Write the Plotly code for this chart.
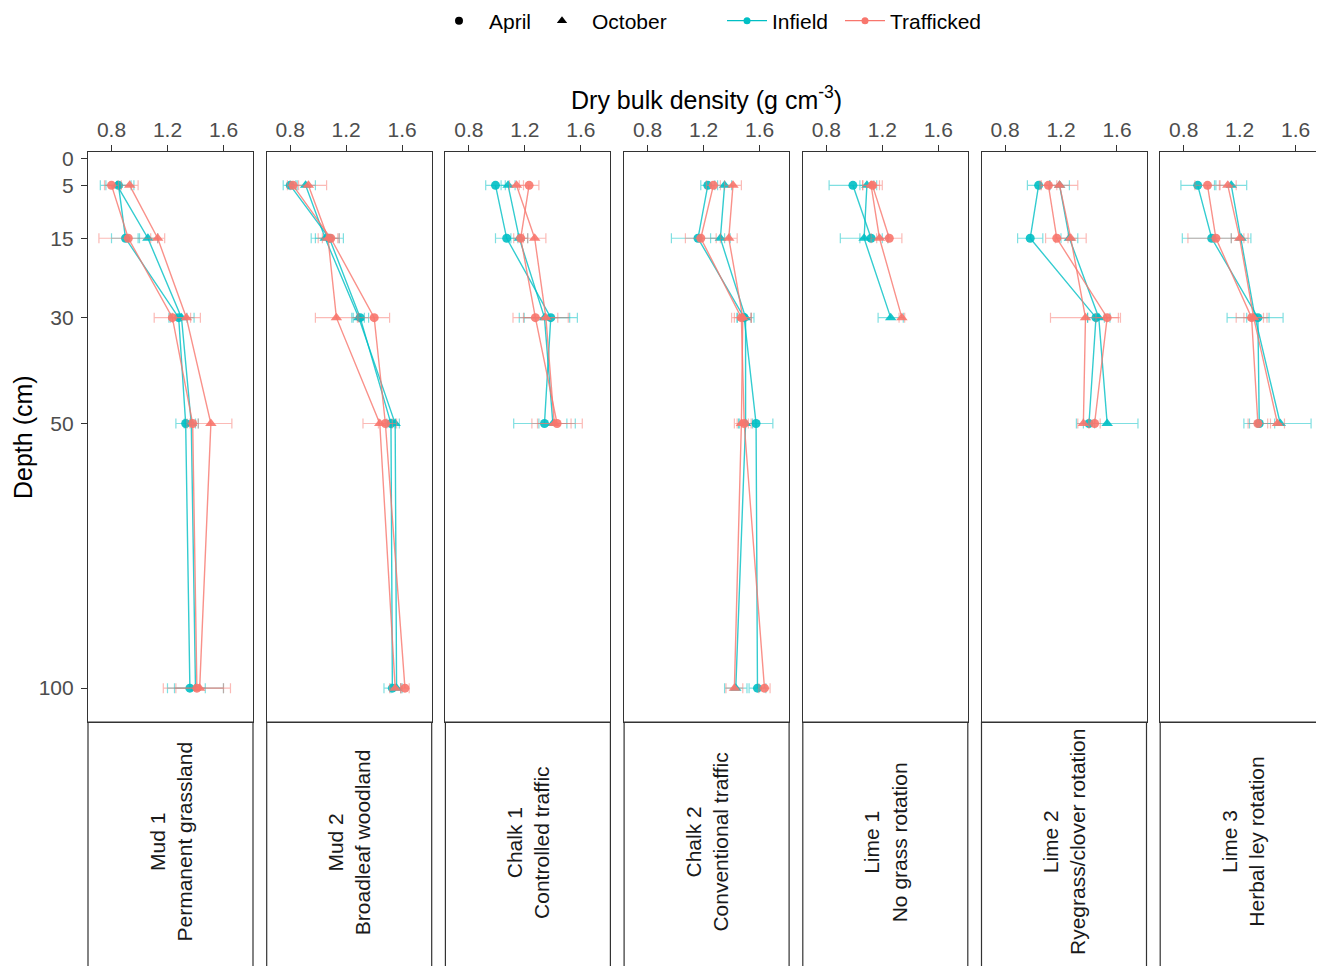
import plotly.graph_objects as go

# ---------------- data ----------------
depths = [5, 15, 30, 50, 100]
depth_ticks = [0, 5, 15, 30, 50, 100]
density_ticks = [0.8, 1.2, 1.6]
site_labels = [
    "Mud 1<br>Permanent grassland",
    "Mud 2<br>Broadleaf woodland",
    "Chalk 1<br>Controlled traffic",
    "Chalk 2<br>Conventional traffic",
    "Lime 1<br>No grass rotation",
    "Lime 2<br>Ryegrass/clover rotation",
    "Lime 3<br>Herbal ley rotation",
]

# mean dry bulk density (g cm-3) per site (rows) and depth (columns 5,15,30,50,100 cm)
infield_april = [
    [0.85, 0.90, 1.28, 1.33, 1.36],
    [0.80, 1.08, 1.30, 1.52, 1.53],
    [0.99, 1.07, 1.385, 1.34, None],
    [1.23, 1.16, 1.49, 1.575, 1.585],
    [0.99, 1.12, None, None, None],
    [1.04, 0.98, 1.45, 1.40, None],
    [0.90, 1.00, 1.33, 1.34, None],
]
infield_october = [
    [0.84, 1.06, 1.30, 1.37, 1.40],
    [0.91, 1.05, 1.29, 1.55, 1.56],
    [1.08, 1.16, 1.34, 1.40, None],
    [1.35, 1.32, 1.50, 1.50, 1.43],
    [1.09, 1.07, 1.26, None, None],
    [1.19, 1.26, 1.47, 1.53, None],
    [1.14, 1.21, 1.31, 1.49, None],
]
trafficked_april = [
    [0.80, 0.92, 1.235, 1.38, 1.41],
    [0.82, 1.09, 1.40, 1.48, 1.62],
    [1.23, 1.17, 1.275, 1.43, None],
    [1.27, 1.18, 1.47, 1.49, 1.635],
    [1.13, 1.25, None, None, None],
    [1.11, 1.17, 1.53, 1.44, None],
    [0.97, 1.03, 1.285, 1.33, None],
]
trafficked_october = [
    [0.93, 1.13, 1.335, 1.51, 1.43],
    [0.93, 1.07, 1.13, 1.44, 1.55],
    [1.14, 1.27, 1.35, 1.41, None],
    [1.41, 1.38, 1.48, 1.47, 1.42],
    [1.12, 1.18, 1.34, None, None],
    [1.19, 1.27, 1.375, 1.36, None],
    [1.115, 1.20, 1.30, 1.47, None],
]

# standard errors
infield_april_se = [
    [0.09, 0.10, 0.06, 0.07, 0.11],
    [0.05, 0.10, 0.06, 0.03, 0.06],
    [0.07, 0.08, 0.19, 0.22, None],
    [0.05, 0.19, 0.05, 0.12, 0.06],
    [0.17, 0.08, None, None, None],
    [0.08, 0.09, 0.06, 0.04, None],
    [0.12, 0.21, 0.08, 0.11, None],
]
infield_october_se = [
    [0.12, 0.07, 0.09, 0.05, 0.20],
    [0.07, 0.10, 0.04, 0.03, 0.04],
    [0.05, 0.06, 0.18, 0.10, None],
    [0.05, 0.07, 0.06, 0.05, 0.08],
    [0.05, 0.17, 0.09, None, None],
    [0.07, 0.06, 0.08, 0.22, None],
    [0.11, 0.07, 0.20, 0.22, None],
]
trafficked_april_se = [
    [0.05, 0.21, 0.13, 0.04, 0.24],
    [0.04, 0.06, 0.11, 0.05, 0.03],
    [0.07, 0.05, 0.16, 0.18, None],
    [0.05, 0.11, 0.07, 0.05, 0.04],
    [0.07, 0.09, None, None, None],
    [0.06, 0.08, 0.08, 0.04, None],
    [0.09, 0.20, 0.11, 0.07, None],
]
trafficked_october_se = [
    [0.06, 0.05, 0.10, 0.15, 0.17],
    [0.13, 0.07, 0.15, 0.12, 0.04],
    [0.05, 0.08, 0.16, 0.12, None],
    [0.06, 0.06, 0.06, 0.05, 0.06],
    [0.06, 0.06, 0.02, None, None],
    [0.13, 0.11, 0.25, 0.04, None],
    [0.06, 0.06, 0.07, 0.05, None],
]

# ---------------- styling / layout ----------------
OFF = 8                      # default page margin of the html body
FW, FH = 1326 - OFF, 966 - OFF
TEAL = (0, 191, 196)
SALMON = (248, 118, 109)
FONT = "Liberation Sans, Arial, sans-serif"
SMALL = 21
BIG = 25


def rgba(c, a):
    return f"rgba({c[0]},{c[1]},{c[2]},{a})"


def px_x(p):
    return (p - OFF) / FW


def px_y(p):
    return (FH - (p - OFF)) / FH


panel_left0 = 88
panel_step = 178.7
panel_w = 165
ydom = [px_y(722), px_y(152)]
x_range = [0.632, 1.811]
y_range = [106.4, -1.3]

series = [
    ("Infield", "April", infield_april, infield_april_se, TEAL, "circle", 9),
    ("Infield", "October", infield_october, infield_october_se, TEAL, "triangle-up", 10),
    ("Trafficked", "April", trafficked_april, trafficked_april_se, SALMON, "circle", 9),
    ("Trafficked", "October", trafficked_october, trafficked_october_se, SALMON, "triangle-up", 10),
]

fig = go.Figure()
layout = {}
shapes = []
annotations = []

for i, label in enumerate(site_labels):
    n = i + 1
    xs = "" if n == 1 else str(n)
    left = panel_left0 + panel_step * i
    xdom = [px_x(left), min(px_x(left + panel_w), 1.0)]

    for treat, month, vals, ses, col, sym, msize in series:
        xv, yv, ev = [], [], []
        for d, v, e in zip(depths, vals[i], ses[i]):
            if v is not None:
                xv.append(v)
                yv.append(d)
                ev.append(e)
        fig.add_trace(go.Scatter(
            x=xv, y=yv, xaxis="x" + xs, yaxis="y" + xs,
            mode="lines+markers",
            line=dict(color=rgba(col, 0.8), width=1.4),
            marker=dict(color=rgba(col, 0.9), symbol=sym, size=msize, line=dict(width=0)),
            error_x=dict(type="data", array=ev, visible=True, color=rgba(col, 0.5),
                         thickness=1.2, width=5),
            showlegend=False, hoverinfo="x+y", name=f"{treat} {month}",
        ))

    layout["xaxis" + xs] = dict(
        domain=xdom, range=x_range, side="top", anchor="y" + xs,
        tickvals=density_ticks, ticktext=[f"{t:.1f}" for t in density_ticks],
        ticks="outside", ticklen=6, tickwidth=1, tickcolor="#333333",
        tickfont=dict(size=SMALL, color="#4d4d4d", family=FONT),
        showline=True, linecolor="#333333", linewidth=1.2, mirror=True,
        showgrid=False, zeroline=False,
    )
    layout["yaxis" + xs] = dict(
        domain=ydom, range=y_range, anchor="x" + xs,
        tickvals=depth_ticks, ticktext=[str(t) for t in depth_ticks],
        ticks="outside" if n == 1 else "", ticklen=6, tickwidth=1, tickcolor="#333333",
        showticklabels=(n == 1), ticklabelstandoff=3,
        tickfont=dict(size=SMALL, color="#4d4d4d", family=FONT),
        showline=True, linecolor="#333333", linewidth=1.2, mirror=True,
        showgrid=False, zeroline=False,
    )

    # strip box below panel
    shapes.append(dict(type="rect", xref="paper", yref="paper",
                       x0=xdom[0], x1=xdom[1], y0=-0.05, y1=ydom[0],
                       line=dict(color="#333333", width=1.2), fillcolor="white", layer="below"))
    annotations.append(dict(text=label, xref="paper", yref="paper",
                            x=(xdom[0] + xdom[1]) / 2, y=px_y(842),
                            xanchor="center", yanchor="middle", textangle=-90,
                            showarrow=False, align="center",
                            font=dict(size=SMALL, color="#1a1a1a", family=FONT)))

# axis titles
annotations.append(dict(text="Dry bulk density (g cm<sup>-3</sup>)", xref="paper", yref="paper",
                        x=px_x(706), y=px_y(98), xanchor="center", yanchor="middle",
                        showarrow=False, font=dict(size=BIG, color="black", family=FONT)))
annotations.append(dict(text="Depth (cm)", xref="paper", yref="paper",
                        x=px_x(23), y=px_y(437), xanchor="center", yanchor="middle",
                        textangle=-90, showarrow=False,
                        font=dict(size=BIG, color="black", family=FONT)))

# legend entries: one legend per entry so each sits where the reference has it
legend_items = [
    ("April", "markers", "black", "circle", 8, 459, 50),
    ("October", "markers", "black", "triangle-up", 9, 562, 50),
    ("Infield", "lines+markers", rgba(TEAL, 1), "circle", 7, 747, 40),
    ("Trafficked", "lines+markers", rgba(SALMON, 1), "circle", 7, 865, 40),
]
legend_layouts = {}
for k, (name, mode, col, sym, msize, marker_px, iw) in enumerate(legend_items):
    lname = "legend" if k == 0 else f"legend{k + 1}"
    fig.add_trace(go.Scatter(x=[None], y=[None], mode=mode, name=name,
                             line=dict(color=col, width=1.4),
                             marker=dict(color=col, symbol=sym, size=msize),
                             legend=lname, showlegend=True))
    legend_layouts[lname] = dict(
        orientation="h", x=px_x(marker_px - 5 - iw / 2), y=px_y(21),
        xanchor="left", yanchor="middle",
        itemwidth=iw, font=dict(size=SMALL, family=FONT, color="black"),
        bgcolor="rgba(0,0,0,0)", borderwidth=0,
    )

fig.update_layout(
    width=FW, height=FH,
    margin=dict(l=0, r=0, t=0, b=0, autoexpand=False),
    paper_bgcolor="white", plot_bgcolor="white",
    font=dict(family=FONT, color="black"),
    shapes=shapes, annotations=annotations,
    **legend_layouts,
    **layout,
)

fig.write_html("out.html")
